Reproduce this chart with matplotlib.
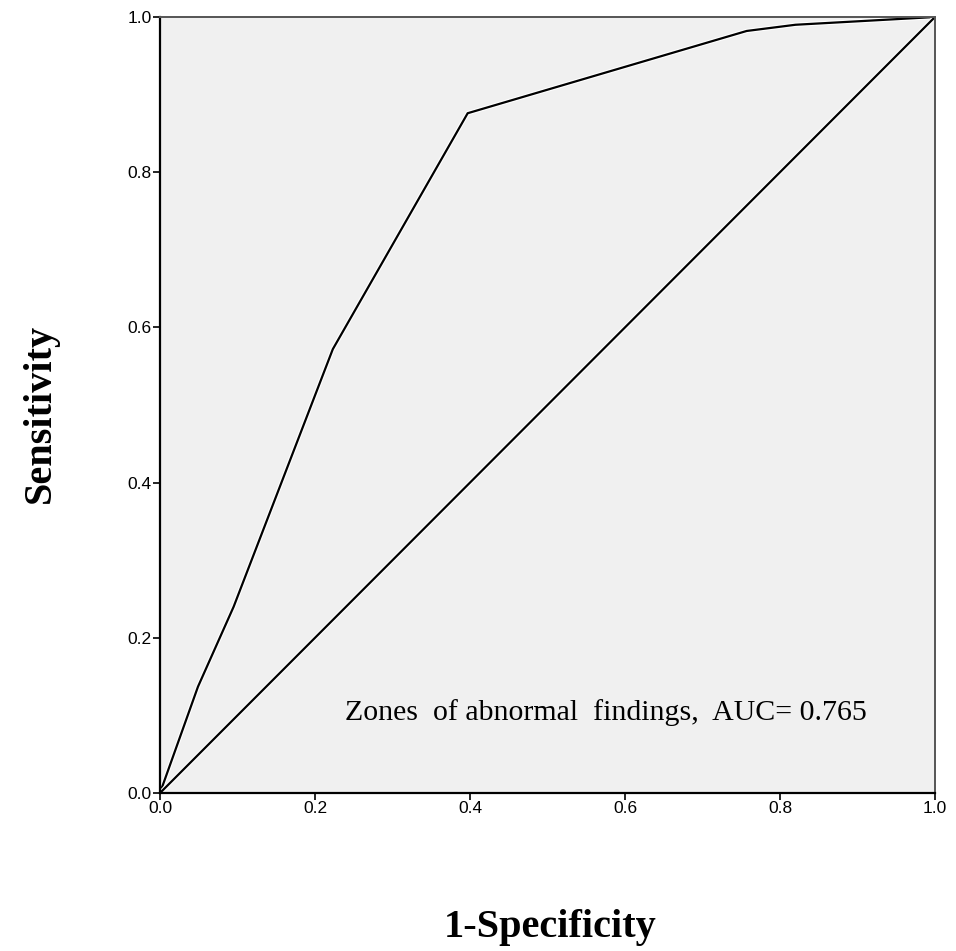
import matplotlib
matplotlib.use("Agg")
import matplotlib.pyplot as plt
import matplotlib.patheffects as pe

fpr = [0.0, 0.049, 0.095, 0.223, 0.397, 0.757, 0.82, 1.0]
tpr = [0.0, 0.137, 0.24, 0.572, 0.876, 0.982, 0.99, 1.0]
ref = [0.0, 1.0]
ticks = [0.0, 0.2, 0.4, 0.6, 0.8, 1.0]
tick_labels = ["0.0", "0.2", "0.4", "0.6", "0.8", "1.0"]
annotation = "Zones  of abnormal  findings,  AUC= 0.765"

fig = plt.figure(figsize=(9.56, 9.51), dpi=100)
ax = fig.add_axes([160/956, 1-793/951, 775/956, 776/951])
ax.set_facecolor("#f0f0f0")

halo = [pe.Stroke(linewidth=3.2, foreground="white"), pe.Normal()]
ax.plot(fpr, tpr, color="black", lw=1.6, path_effects=halo, solid_joinstyle="miter")
ax.plot(ref, ref, color="black", lw=1.6, path_effects=halo)

ax.set_xlim(0, 1)
ax.set_ylim(0, 1)
ax.set_xticks(ticks)
ax.set_xticklabels(tick_labels)
ax.set_yticks(ticks)
ax.set_yticklabels(tick_labels)
ax.tick_params(direction="out", length=5, width=1.2, labelsize=12.5, pad=1,
               colors="black")
for lbl in ax.get_xticklabels() + ax.get_yticklabels():
    lbl.set_fontfamily("Liberation Sans")

for s in ["left", "bottom"]:
    ax.spines[s].set_linewidth(1.6)
    ax.spines[s].set_color("black")
for s in ["top", "right"]:
    ax.spines[s].set_linewidth(1.4)
    ax.spines[s].set_color("#555555")

ax.text(0.575, 0.104, annotation, ha="center", va="center",
        fontsize=21.5, family="Liberation Serif", color="black")

fig.text(550/956, 1-928/951, "1-Specificity", ha="center", va="center",
         fontsize=29, fontweight="bold", family="Liberation Serif")
fig.text(40/956, 1-413/951, "Sensitivity", ha="center", va="center",
         rotation=90, fontsize=29, fontweight="bold", family="Liberation Serif")

fig.savefig("out.png", dpi=100, facecolor="white")
